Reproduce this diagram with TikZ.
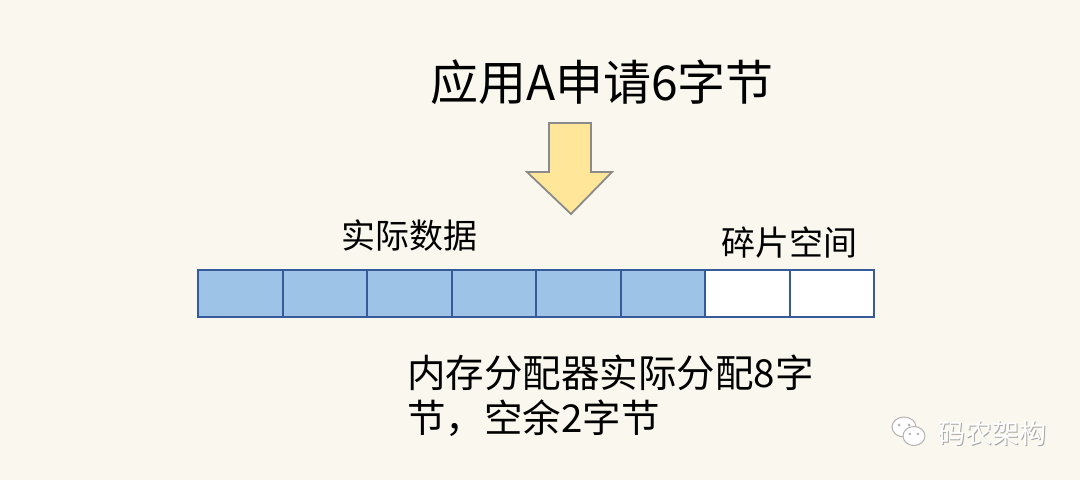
\documentclass[tikz,border=0pt]{standalone}
\usepackage{fontspec}
\setmainfont{Noto Sans CJK SC}
\newfontfamily\cjk{Noto Sans CJK SC}
\definecolor{bgc}{HTML}{FAF8EE}
\definecolor{cellfill}{HTML}{9DC3E6}
\definecolor{cellline}{HTML}{365A9A}
\definecolor{arrfill}{HTML}{FFE699}
\definecolor{arrline}{HTML}{8A8A8A}
\tikzset{
  cell/.style={draw=cellline, line width=2pt, minimum width=84.5pt, minimum height=47pt, inner sep=0pt, outer sep=0pt},
  used/.style={cell, fill=cellfill},
  free/.style={cell, fill=white},
  lbl/.style={inner sep=0pt, text=black, font=\cjk},
}
\begin{document}
\begin{tikzpicture}[x=1pt,y=-1pt]
\fill[bgc] (0,0) rectangle (1080,480);
\useasboundingbox (0,0) rectangle (1080,480);
% title
\node[lbl, font=\cjk\fontsize{48}{58}\selectfont] (title) at (602,82) {应用A申请6字节};
% arrow
\draw[fill=arrfill, draw=arrline, line width=1.8pt, line join=miter]
  (549,123) -- (591,123) -- (591,172) -- (612,172) -- (571,214) -- (527,172) -- (549,172) -- cycle;
% cells
\foreach \i in {1,...,6} {
  \node[used, anchor=north west] (c\i) at ({198+84.5*(\i-1)},270) {};
}
\foreach \i in {7,8} {
  \node[free, anchor=north west] (c\i) at ({198+84.5*(\i-1)},270) {};
}
% labels
\node[lbl, font=\cjk\fontsize{34}{40}\selectfont] (data) at (409,236) {实际数据};
\node[lbl, font=\cjk\fontsize{34}{40}\selectfont] (frag) at (789,243) {碎片空间};
\node[lbl, font=\cjk\fontsize{38.5}{45}\selectfont, anchor=north west, align=left] (note) at (407,355) {内存分配器实际分配8字\\节，空余2字节};
% watermark
\begin{scope}[line width=1pt]
  \draw[draw=gray!60, fill=white] (904,427) ellipse (12pt and 10pt);
  \fill[gray!60] (899,425) circle (1.5pt) (909,425) circle (1.5pt);
  \draw[draw=gray!60, fill=white] (914,436) ellipse (11pt and 9.5pt);
  \fill[gray!60] (910,434) circle (1.4pt) (918,434) circle (1.4pt);
\end{scope}
\node[lbl, font=\cjk\fontsize{27}{30}\selectfont, text=gray!70, anchor=west] (wm2) at (938.8,433.8) {码农架构};
\node[lbl, font=\cjk\fontsize{27}{30}\selectfont, text=white, anchor=west] (wm) at (938,433) {码农架构};
\end{tikzpicture}
\end{document}
